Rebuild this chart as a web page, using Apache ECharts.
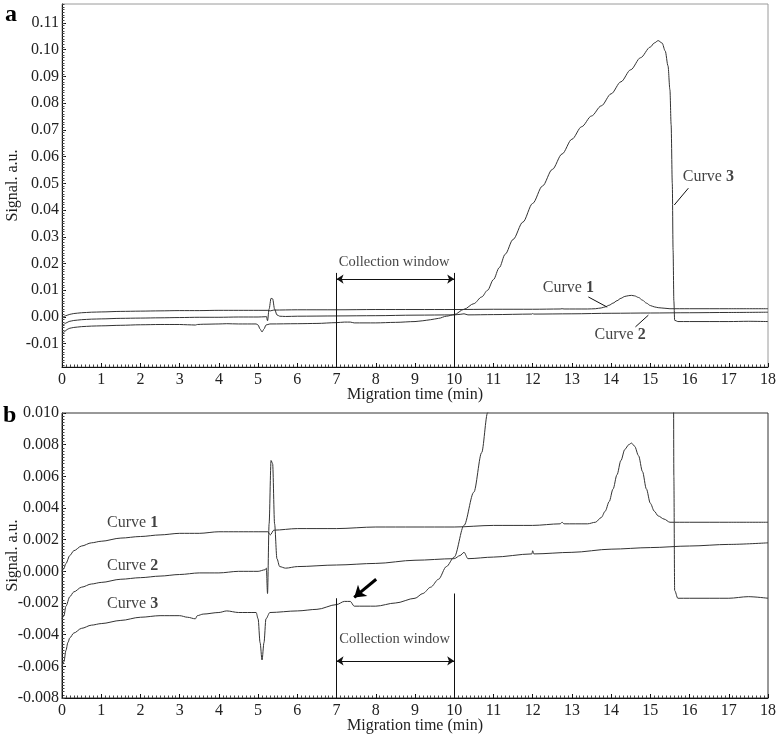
<!DOCTYPE html>
<html>
<head>
<meta charset="utf-8">
<script src="https://cdn.jsdelivr.net/npm/echarts@6/dist/echarts.min.js"></script>
<style>
html,body{margin:0;padding:0;background:#fff;}
#chart{width:784px;height:739px;}
</style>
</head>
<body>
<div id="chart"></div>
<script>
// ---------- data (migration time in min, signal in a.u.) ----------
const xTicks = [0,1,2,3,4,5,6,7,8,9,10,11,12,13,14,15,16,17,18];
const yTicksA = [-0.01,0.00,0.01,0.02,0.03,0.04,0.05,0.06,0.07,0.08,0.09,0.10,0.11];
const yTicksB = [-0.008,-0.006,-0.004,-0.002,0.000,0.002,0.004,0.006,0.008,0.010];

const curve1 = [
  [0,0.0000],[0.05,0.0002],[0.1,0.0005],[0.2,0.0010],[0.3,0.0013],[0.5,0.0016],
  [0.75,0.0018],[1.0,0.0019],[1.5,0.0021],[2.0,0.0022],[2.5,0.0023],[3.0,0.0024],
  [3.5,0.0024],[4.0,0.0025],[4.5,0.0025],[5.0,0.0025],[5.25,0.0025],[5.31,0.0023],
  [5.4,0.0026],[6.0,0.0027],[7.0,0.0027],[8.0,0.0028],[9.0,0.0028],[10.0,0.0028],
  [11.0,0.0029],[12.0,0.0029],[12.7,0.0030],[12.75,0.0031],[12.8,0.0030],[13.4,0.0030],
  [13.6,0.0031],[13.75,0.0034],[13.85,0.0038],[13.95,0.0044],[14.05,0.0052],[14.15,0.0061],
  [14.25,0.0070],[14.35,0.0077],[14.45,0.0080],[14.52,0.0081],[14.6,0.0079],[14.7,0.0073],
  [14.8,0.0063],[14.9,0.0052],[15.0,0.0043],[15.1,0.0038],[15.2,0.0035],[15.35,0.0033],
  [15.5,0.0031],[16.0,0.0031],[17.0,0.0031],[18.0,0.0031]
];
const curve2 = [
  [0,-0.0030],[0.05,-0.0028],[0.1,-0.0022],[0.2,-0.0016],[0.3,-0.0013],[0.5,-0.0010],
  [0.75,-0.0008],[1.0,-0.0007],[1.5,-0.0005],[2.0,-0.0004],[2.5,-0.0003],[3.0,-0.0002],
  [3.5,-0.0001],[4.0,-0.0001],[4.5,0.0000],[5.0,0.0000],[5.18,0.0001],[5.21,0.0002],
  [5.24,-0.0014],[5.28,0.0030],[5.33,0.0070],[5.37,0.0068],[5.42,0.0030],[5.48,0.0008],
  [5.55,0.0003],[5.7,0.0002],[6.0,0.0003],[7.0,0.0004],[8.0,0.0005],[9.0,0.0007],
  [10.0,0.0008],[10.15,0.0010],[10.25,0.0012],[10.35,0.0008],[11.0,0.0009],[11.98,0.0011],
  [12.0,0.0013],[12.03,0.0011],[13.0,0.0012],[14.0,0.0014],[15.0,0.0015],[16.0,0.0016],
  [17.0,0.0017],[18.0,0.0018]
];
const curve3 = [
  [0,-0.0060],[0.05,-0.0057],[0.1,-0.0050],[0.15,-0.0045],[0.2,-0.0042],[0.3,-0.0039],
  [0.5,-0.0036],[0.75,-0.0034],[1.0,-0.0033],[1.5,-0.0031],[2.0,-0.0029],[2.5,-0.0028],
  [3.0,-0.0028],[3.2,-0.0029],[3.4,-0.0030],[3.45,-0.0028],[3.6,-0.0027],[4.0,-0.0026],
  [4.2,-0.0025],[4.5,-0.0026],[4.95,-0.0026],[5.0,-0.0030],[5.05,-0.0045],[5.1,-0.0056],
  [5.15,-0.0045],[5.2,-0.0030],[5.3,-0.0026],[6.0,-0.0025],[6.5,-0.0024],[7.0,-0.0021],
  [7.2,-0.0019],[7.35,-0.0019],[7.45,-0.0022],[8.0,-0.0022],[8.5,-0.0020],[9.0,-0.0017],
  [9.2,-0.0014],[9.4,-0.0010],[9.6,-0.0005],[9.8,0.0003],[10.0,0.0009],[10.25,0.0029],
  [10.5,0.0050],[10.7,0.0075],[10.85,0.0100],[11.0,0.0140],[11.15,0.0185],[11.3,0.0235],
  [11.5,0.0290],[11.75,0.0355],[12.0,0.0425],[12.25,0.0490],[12.5,0.0552],[12.75,0.0610],
  [13.0,0.0665],[13.25,0.0712],[13.5,0.0752],[13.75,0.0790],[14.0,0.0835],[14.25,0.0880],
  [14.5,0.0925],[14.75,0.0970],[15.0,0.1010],[15.1,0.1025],[15.2,0.1034],[15.3,0.1025],
  [15.38,0.0995],[15.45,0.0940],[15.5,0.0850],[15.53,0.0720],[15.56,0.0500],[15.58,0.0250],
  [15.6,0.0060],[15.62,-0.0012],[15.7,-0.0017],[16.0,-0.0017],[17.0,-0.0017],[17.5,-0.0016],
  [18.0,-0.0017]
];

// ---------- layout / style ----------
const FONT = 'Liberation Serif';
const INK = '#222';
const LINE = '#333';
const yRangeA = [-0.0187, 0.1171];
const yRangeB = [-0.008, 0.010];

function minorValues(lo, hi, step) {
  const out = [];
  const start = Math.ceil(lo / step - 1e-9);
  const end = Math.floor(hi / step + 1e-9);
  for (let i = start; i <= end; i++) out.push(+(i * step).toFixed(6));
  return out;
}
function fmt(d) { return v => (Math.abs(v) < 1e-9 ? 0 : v).toFixed(d); }

function xAxisFor(gi) {
  return {
    type: 'value', gridIndex: gi, min: 0, max: 18, interval: 1,
    name: 'Migration time (min)', nameLocation: 'middle', nameGap: 20, nameMoveOverlap: false,
    nameTextStyle: {fontFamily: FONT, fontSize: 16, color: INK},
    axisLine: {show: true, onZero: false, lineStyle: {color: '#111', width: 1}},
    axisTick: {show: true, inside: true, length: 4, lineStyle: {color: '#111'}},
    minorTick: {show: true, splitNumber: 10, length: 2.5, lineStyle: {color: '#444'}},
    axisLabel: {fontFamily: FONT, fontSize: 16, color: INK, margin: 5, customValues: xTicks},
    splitLine: {show: false}, minorSplitLine: {show: false}
  };
}
function yMajor(gi, range, ticks, dec) {
  return {
    type: 'value', gridIndex: gi, min: range[0], max: range[1], position: 'left',
    name: 'Signal. a.u.', nameLocation: 'middle', nameGap: 41, nameMoveOverlap: false,
    nameTextStyle: {fontFamily: FONT, fontSize: 16, color: INK},
    axisLine: {show: true, onZero: false, lineStyle: {color: '#111', width: 1}},
    axisTick: {show: true, inside: true, length: 4, customValues: ticks, lineStyle: {color: '#111'}},
    axisLabel: {fontFamily: FONT, fontSize: 16, color: INK, margin: 3, customValues: ticks, formatter: fmt(dec)},
    splitLine: {show: false}
  };
}
function yMinor(gi, range, step) {
  return {
    type: 'value', gridIndex: gi, min: range[0], max: range[1], position: 'left',
    axisLine: {show: false, onZero: false},
    axisTick: {show: true, inside: true, length: 2.5, customValues: minorValues(range[0], range[1], step), lineStyle: {color: '#444'}},
    axisLabel: {show: false}, splitLine: {show: false}
  };
}
function curve(data, gi) {
  return {
    type: 'line', xAxisIndex: gi, yAxisIndex: gi * 2, data: data,
    symbol: 'none', showSymbol: false, smooth: 0.3, smoothMonotone: 'x',
    lineStyle: {color: LINE, width: 1}, silent: true, clip: true, z: 3
  };
}
const thin = {color: '#111', width: 1, type: 'solid'};
function seg(a, b, extra) {
  return [Object.assign({coord: a, symbol: 'none'}, extra && extra[0]),
          Object.assign({coord: b, symbol: 'none'}, extra && extra[1])];
}
function annot(gi, lines) {
  return {
    type: 'line', xAxisIndex: gi, yAxisIndex: gi * 2, data: [], silent: true,
    markLine: {silent: true, animation: false, symbol: 'none', label: {show: false},
      lineStyle: thin, emphasis: {disabled: true}, data: lines}
  };
}
function texts(gi, items) {
  return {
    type: 'scatter', xAxisIndex: gi, yAxisIndex: gi * 2, symbolSize: 0, silent: true, z: 5,
    data: items.map(it => ({name: it.t, value: it.p,
      label: {fontSize: it.fs || 16}})),
    label: {show: true, position: 'inside', formatter: '{b}', fontFamily: FONT, fontSize: 16, color: '#111',
      rich: {n: {fontFamily: FONT, fontSize: 16, fontWeight: 'bold', color: '#111'}}}
  };
}
const arrowEnds = [{symbol: 'arrow', symbolSize: 7}, {symbol: 'arrow', symbolSize: 7}];

const linesA = [
  seg([7, 0.0165], [7, yRangeA[0]]),
  seg([10, 0.0165], [10, yRangeA[0]]),
  seg([7, 0.0142], [10, 0.0142], arrowEnds),
  seg([13.42, 0.0075], [13.9, 0.0037]),
  seg([14.62, -0.0037], [14.95, 0.0007]),
  seg([15.61, 0.0419], [15.97, 0.0482])
];
const linesB = [
  seg([7, -0.0017], [7, yRangeB[0]]),
  seg([10, -0.0014], [10, yRangeB[0]]),
  seg([7, -0.00566], [10, -0.00566], arrowEnds),
  [{coord: [8.01, -0.0005], symbol: 'none', lineStyle: {width: 3, color: '#000'}},
   {coord: [7.45, -0.00165], symbol: 'arrow', symbolSize: 11}]
];
const textsA = [
  {t: 'Collection window', p: [8.47, 0.0204], fs: 14.5},
  {t: 'Curve {n|1}', p: [12.91, 0.0110]},
  {t: 'Curve {n|2}', p: [14.23, -0.0067]},
  {t: 'Curve {n|3}', p: [16.48, 0.0526]}
];
const textsB = [
  {t: 'Curve {n|1}', p: [1.80, 0.00308]},
  {t: 'Curve {n|2}', p: [1.80, 0.00037]},
  {t: 'Curve {n|3}', p: [1.80, -0.00206]},
  {t: 'Collection window', p: [8.48, -0.0043], fs: 14.5}
];

const option = {
  animation: false,
  backgroundColor: '#fff',
  grid: [
    {left: 62, right: 16, top: 4, bottom: 372, show: true, borderColor: '#9a9a9a', borderWidth: 1, backgroundColor: 'transparent', outerBoundsMode: 'none', containLabel: false},
    {left: 62, right: 16, top: 413, bottom: 41, show: true, borderColor: '#333', borderWidth: 1, backgroundColor: 'transparent', outerBoundsMode: 'none', containLabel: false}
  ],
  xAxis: [xAxisFor(0), xAxisFor(1)],
  yAxis: [
    yMajor(0, yRangeA, yTicksA, 2), yMinor(0, yRangeA, 0.001),
    yMajor(1, yRangeB, yTicksB, 3), yMinor(1, yRangeB, 0.0002)
  ],
  graphic: [
    {type: 'text', left: 5, top: 3, style: {text: 'a', font: 'bold 24px "Liberation Serif"', fill: '#000'}},
    {type: 'text', left: 3, top: 404, style: {text: 'b', font: 'bold 24px "Liberation Serif"', fill: '#000'}}
  ],
  series: [
    curve(curve1, 0), curve(curve2, 0), curve(curve3, 0),
    annot(0, linesA), texts(0, textsA),
    curve(curve1, 1), curve(curve2, 1), curve(curve3, 1),
    annot(1, linesB), texts(1, textsB)
  ]
};
const chart = echarts.init(document.getElementById('chart'), null, {renderer: 'canvas'});
chart.setOption(option);
</script>
</body>
</html>
